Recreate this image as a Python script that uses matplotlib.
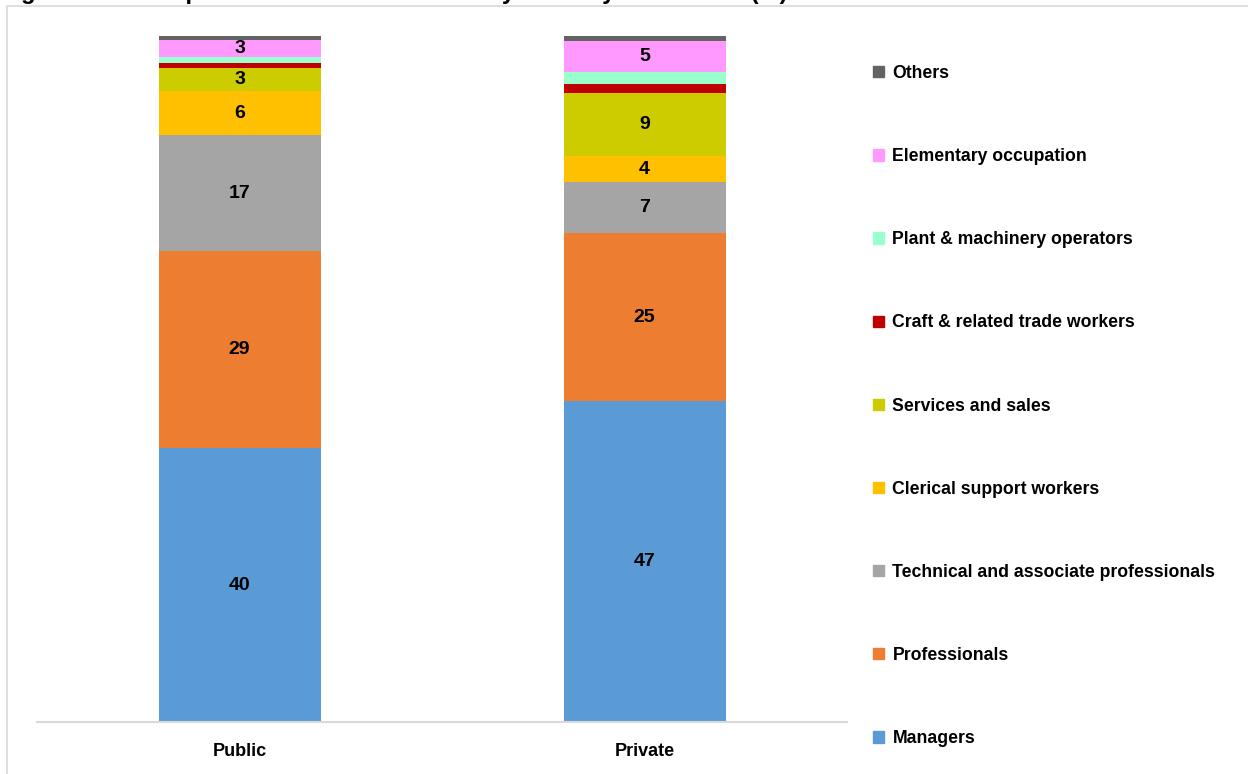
import matplotlib.pyplot as plt
from matplotlib.patches import Patch, Rectangle

plt.rcParams['font.family'] = ['Liberation Sans', 'DejaVu Sans']
plt.rcParams['font.weight'] = 'bold'

sectors = ["Public", "Private"]
occupations = ["Managers", "Professionals", "Technical and associate professionals",
               "Clerical support workers", "Services and sales", "Craft & related trade workers",
               "Plant & machinery operators", "Elementary occupation", "Others"]
colors = ["#5B9BD5", "#ED7D31", "#A5A5A5", "#FFC000", "#CCCC00", "#C00000",
          "#99FFCC", "#FF99FF", "#636363"]

# share of staff (%) per occupation, public then private
managers = [39.9, 46.7]
professionals = [28.7, 24.55]
technical = [16.9, 7.4]
clerical = [6.45, 3.8]
services = [3.4, 9.2]
craft = [0.7, 1.3]
plant = [0.8, 1.7]
elementary = [2.55, 4.55]
others = [0.6, 0.8]
series = [managers, professionals, technical, clerical, services, craft, plant, elementary, others]

fig = plt.figure(figsize=(12.48, 7.74), dpi=100)
ax = fig.add_axes([37 / 1248, 1 - 722 / 774, 810 / 1248, (722 - 35.7) / 774])

x = range(len(sectors))
bottom = [0.0, 0.0]
for name, vals, col in zip(occupations, series, colors):
    ax.bar(x, vals, width=0.4, bottom=bottom, color=col, label=name)
    for i, v in enumerate(vals):
        if v >= 2:
            ax.text(i, bottom[i] + v / 2, f"{v:.0f}", ha='center', va='center',
                    fontsize=14, fontweight='bold', color='black')
    bottom = [b + v for b, v in zip(bottom, vals)]

ax.set_xlim(-0.5, 1.5)
ax.set_ylim(0, 100)
ax.set_xticks(list(x))
ax.set_xticklabels(sectors, fontsize=13, fontweight='bold')
ax.tick_params(axis='x', length=0, pad=15)
ax.set_yticks([])
for s in ['top', 'right', 'left']:
    ax.spines[s].set_visible(False)
ax.spines['bottom'].set_color('#d9d9d9')
ax.spines['bottom'].set_linewidth(1.5)

handles = [Patch(color=c, label=n) for n, c in zip(occupations, colors)][::-1]
fig.legend(handles=handles, loc='upper left', bbox_to_anchor=(873 / 1248, 1 - 65 / 774),
           frameon=False, prop={'weight': 'bold', 'size': 12.7},
           handlelength=0.6, handleheight=0.6, handletextpad=0.5, labelspacing=3.75,
           borderaxespad=0, borderpad=0)

# chart frame and clipped caption above it
fig.patches.append(Rectangle((7 / 1248, -0.05), 1.2, 1 - 6 / 774 + 0.05,
                             transform=fig.transFigure, fill=False,
                             edgecolor='#d9d9d9', linewidth=1.2))
fig.text(0.0, 1 + 1 / 774, "Figure 3.4: Occupation of Staff Interviewed by Industry and Sector (%)",
         fontsize=17, fontweight='bold', va='baseline', ha='left')

fig.savefig("out.png", dpi=100)
